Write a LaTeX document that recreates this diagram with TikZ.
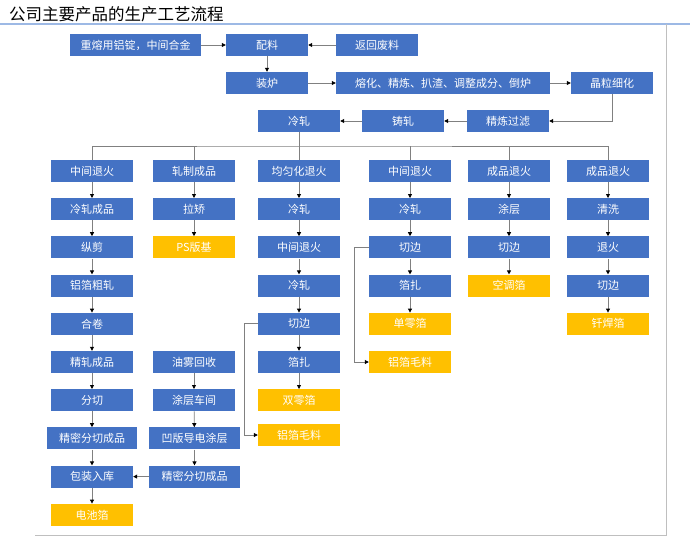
\documentclass[tikz,border=0pt]{standalone}
\usepackage{fontspec}
\newfontfamily\cjk{Noto Sans CJK SC}
\usetikzlibrary{arrows.meta}
\definecolor{boxblue}{HTML}{4472C4}
\definecolor{boxyellow}{HTML}{FFC000}
\definecolor{linegray}{HTML}{808080}
\definecolor{titleline}{HTML}{9DB9E5}
\definecolor{framegray}{HTML}{BFBFBF}
\begin{document}
\begin{tikzpicture}[x=1pt,y=-1pt,
  bx/.style={fill=boxblue, text=white, font=\cjk\fontsize{11}{11}\selectfont, minimum height=22pt, minimum width=82pt, inner sep=0pt},
  yb/.style={bx, fill=boxyellow},
  arr/.style={draw=linegray, line width=0.8pt, -{Triangle[length=4pt,width=4pt,color=black]}},
  ln/.style={draw=linegray, line width=0.8pt}]
\useasboundingbox (0,0) rectangle (690,543);
% title and frame
\node[anchor=west, inner sep=0pt, font=\cjk\fontsize{16.5}{16.5}\selectfont] (title) at (9,14) {公司主要产品的生产工艺流程};
\draw[titleline, line width=1.2pt] (0,24) -- (690,24);
\draw[framegray, line width=1pt] (666,24) -- (666,535) -- (35,535);
% top rows
\node[bx, minimum width=131pt] (ingot) at (135.5,45) {重熔用铝锭，中间合金};
\node[bx] (peiliao) at (267,45) {配料};
\node[bx] (fanhui) at (377,45) {返回废料};
\node[bx] (zhuanglu) at (267,83) {装炉};
\node[bx, minimum width=214pt] (ronghua) at (443,83) {熔化、精炼、扒渣、调整成分、倒炉};
\node[bx] (jingli) at (612,83) {晶粒细化};
\node[bx] (lengzha) at (299,121) {冷轧};
\node[bx] (zhuzha) at (403,121) {铸轧};
\node[bx] (guolv) at (508,121) {精炼过滤};
\draw[arr] (ingot) -- (peiliao);
\draw[arr] (fanhui) -- (peiliao);
\draw[arr] (peiliao) -- (zhuanglu);
\draw[arr] (zhuanglu) -- (ronghua);
\draw[arr] (ronghua) -- (jingli);
\draw[arr] (jingli.south) |- (guolv.east);
\draw[arr] (guolv) -- (zhuzha);
\draw[arr] (zhuzha) -- (lengzha);
% column 1
\node[bx] (a0) at (92,171) {中间退火};
\node[bx] (a1) at (92,209.2) {冷轧成品};
\node[bx] (a2) at (92,247.4) {纵剪};
\node[bx] (a3) at (92,285.6) {铝箔粗轧};
\node[bx] (a4) at (92,323.8) {合卷};
\node[bx] (a5) at (92,362) {精轧成品};
\node[bx] (a6) at (92,400.2) {分切};
\node[bx, minimum width=90pt] (a7) at (92,438.4) {精密分切成品};
\node[bx] (a8) at (92,476.6) {包装入库};
\node[yb] (a9) at (92,514.8) {电池箔};
\foreach \i/\j in {a0/a1,a1/a2,a2/a3,a3/a4,a4/a5,a5/a6,a6/a7,a7/a8,a8/a9} \draw[arr] (\i) -- (\j);
% column 2
\node[bx] (b0) at (194,171) {轧制成品};
\node[bx] (b1) at (194,209.2) {拉矫};
\node[yb] (b2) at (194,247.4) {PS版基};
\node[bx] (b5) at (194,362) {油雾回收};
\node[bx] (b6) at (194,400.2) {涂层车间};
\node[bx, minimum width=91pt] (b7) at (194.5,438.4) {凹版导电涂层};
\node[bx, minimum width=91pt] (b8) at (194.5,476.6) {精密分切成品};
\foreach \i/\j in {b0/b1,b1/b2,b5/b6,b6/b7,b7/b8} \draw[arr] (\i) -- (\j);
\draw[arr] (b8) -- (a8);
% column 3
\node[bx] (c0) at (299,171) {均匀化退火};
\node[bx] (c1) at (299,209.2) {冷轧};
\node[bx] (c2) at (299,247.4) {中间退火};
\node[bx] (c3) at (299,285.6) {冷轧};
\node[bx] (c4) at (299,323.8) {切边};
\node[bx] (c5) at (299,362) {箔扎};
\node[yb] (c6) at (299,400.2) {双零箔};
\node[yb] (c7) at (299,435) {铝箔毛料};
\foreach \i/\j in {c0/c1,c1/c2,c2/c3,c3/c4,c4/c5,c5/c6} \draw[arr] (\i) -- (\j);
\draw[arr] (c4.west) -- ++(-13,0) |- (c7.west);
% column 4
\node[bx] (d0) at (410,171) {中间退火};
\node[bx] (d1) at (410,209.2) {冷轧};
\node[bx] (d2) at (410,247.4) {切边};
\node[bx] (d3) at (410,285.6) {箔扎};
\node[yb] (d4) at (410,323.8) {单零箔};
\node[yb] (d5) at (410,362) {铝箔毛料};
\foreach \i/\j in {d0/d1,d1/d2,d2/d3,d3/d4} \draw[arr] (\i) -- (\j);
\draw[arr] (d2.west) -- ++(-14,0) |- (d5.west);
% column 5
\node[bx] (e0) at (509,171) {成品退火};
\node[bx] (e1) at (509,209.2) {涂层};
\node[bx] (e2) at (509,247.4) {切边};
\node[yb] (e3) at (509,285.6) {空调箔};
\foreach \i/\j in {e0/e1,e1/e2,e2/e3} \draw[arr] (\i) -- (\j);
% column 6
\node[bx] (f0) at (608,171) {成品退火};
\node[bx] (f1) at (608,209.2) {清洗};
\node[bx] (f2) at (608,247.4) {退火};
\node[bx] (f3) at (608,285.6) {切边};
\node[yb] (f4) at (608,323.8) {钎焊箔};
\foreach \i/\j in {f0/f1,f1/f2,f2/f3,f3/f4} \draw[arr] (\i) -- (\j);
% branching from 冷轧
\coordinate (bus) at (299,146);
\draw[ln] (lengzha.south) -- (bus);
\draw[ln] (a0.north) |- (bus) -| (f0.north);
\foreach \n in {b0,c0,d0,e0} \draw[ln] (\n.north) -- (\n.north |- bus);
\end{tikzpicture}
\end{document}
